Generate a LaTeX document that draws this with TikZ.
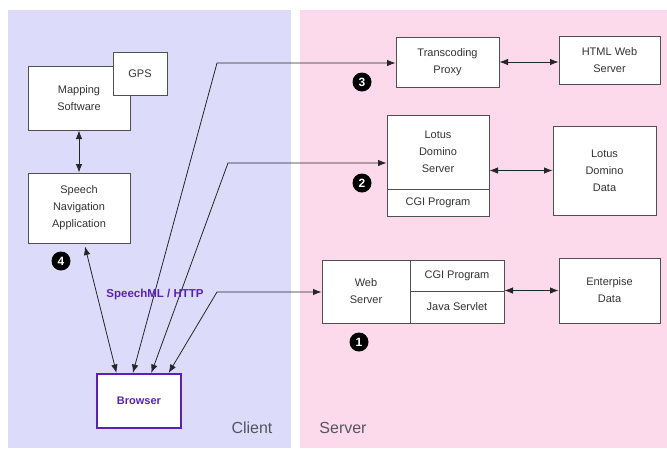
\documentclass[tikz,border=0pt]{standalone}
\usepackage{fontspec}
\setmainfont{Liberation Sans}
\usetikzlibrary{arrows.meta,calc}
\definecolor{clientbg}{HTML}{DCDCFA}
\definecolor{serverbg}{HTML}{FCDAEC}
\definecolor{boxline}{HTML}{505050}
\definecolor{purp}{HTML}{5A22B4}
\definecolor{lbl}{HTML}{555560}
\tikzset{
  box/.style={draw=boxline,line width=1pt,fill=white,inner sep=0pt,align=center,
    text=black!80,font=\fontsize{11}{17}\selectfont},
  conn/.style={draw=black!85,line width=0.8pt,{Latex[length=8.5pt,width=6.5pt]}-{Latex[length=8.5pt,width=6.5pt]}},
  badge/.style={circle,fill=black,text=white,inner sep=0pt,minimum size=19pt,
    font=\fontsize{12}{12}\selectfont\bfseries},
  side/.style={text=lbl,font=\fontsize{16}{16}\selectfont}
}
\begin{document}
\begin{tikzpicture}[x=1pt,y=-1pt]
\useasboundingbox (0,0) rectangle (667,448);
\fill[white] (0,0) rectangle (667,448);
\fill[clientbg] (8,10) rectangle (291,448);
\fill[serverbg] (300,10) rectangle (667,448);
% client boxes
\node[box,minimum width=102pt,minimum height=64pt] (map) at (79,98) {Mapping\\Software};
\node[box,minimum width=54pt,minimum height=43pt] (gps) at (140,73.5) {GPS};
\node[box,minimum width=102pt,minimum height=70pt] (speech) at (79,208) {Speech\\Navigation\\Application};
\node[box,draw=purp,line width=2pt,minimum width=84pt,minimum height=54pt,text=purp,
  font=\fontsize{11}{11}\selectfont\bfseries] (browser) at (139,401) {Browser};
% server boxes
\node[box,minimum width=103pt,minimum height=50pt] (proxy) at (447.5,62) {Transcoding\\Proxy};
\node[box,minimum width=101pt,minimum height=48pt] (html) at (609.5,60) {HTML Web\\Server};
\node[box,minimum width=102pt,minimum height=74pt] (lotus) at (438,152) {Lotus\\Domino\\Server};
\node[box,minimum width=102pt,minimum height=27pt] (lotuscgi) at (438,202.5) {CGI Program};
\node[box,minimum width=103pt,minimum height=89pt] (ldata) at (604.5,170.5) {Lotus\\Domino\\Data};
\node[box,minimum width=88pt,minimum height=63pt] (web) at (366,291.5) {Web\\Server};
\node[box,minimum width=94pt,minimum height=31pt] (webcgi) at (457,275.5) {CGI Program};
\node[box,minimum width=94pt,minimum height=32pt] (webjava) at (457,307) {Java Servlet};
\node[box,minimum width=101pt,minimum height=65pt] (ent) at (609.5,290.5) {Enterpise\\Data};
% corner points
\coordinate (k3) at (217,63);
\coordinate (k2) at (228,163);
\coordinate (k1) at (217,292);
% connectors
\draw[conn] (map.south) -- (speech.north);
\draw[conn] ($(speech.south)+(6,3)$) -- ($(browser.north west)!0.238!(browser.north east)$);
\draw[conn] ($(browser.north west)!0.429!(browser.north east)$) -- (k3) -- (k3 -| proxy.west);
\draw[conn] ($(browser.north west)!0.643!(browser.north east)$) -- (k2) -- (k2 -| lotus.west);
\draw[conn] ($(browser.north west)!0.845!(browser.north east)$) -- (k1) -- (k1 -| web.west);
\draw[conn] (proxy.east) -- (proxy.east -| html.west);
\draw[conn] (ldata.west -| lotus.east) -- (ldata.west);
\draw[conn] (ent.west -| webjava.east) -- (ent.west);
% labels
\node[text=purp,font=\fontsize{11.5}{11.5}\selectfont\bfseries] (proto) at (155,295) {SpeechML / HTTP};
\node[badge] (n1) at (359,342) {1};
\node[badge] (n2) at (362,183) {2};
\node[badge] (n3) at (362,82) {3};
\node[badge] (n4) at (61,261) {4};
\node[side] (client) at (252,428) {Client};
\node[side] (server) at (343,428) {Server};
\end{tikzpicture}
\end{document}
